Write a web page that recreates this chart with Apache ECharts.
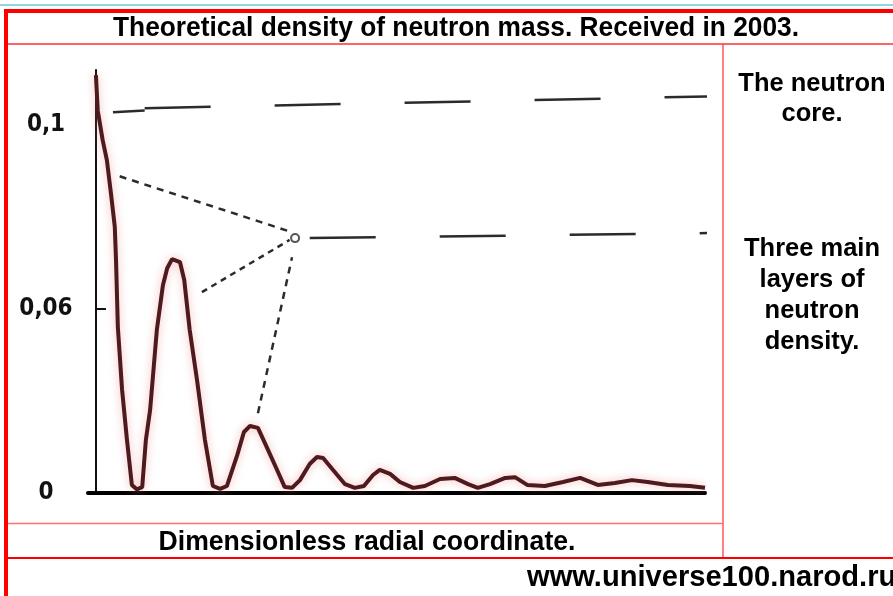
<!DOCTYPE html>
<html>
<head>
<meta charset="utf-8">
<title>Theoretical density of neutron mass</title>
<script src="https://cdn.jsdelivr.net/npm/echarts@6/dist/echarts.min.js"></script>
<style>
  html, body { margin: 0; padding: 0; background: #fff; }
  #main { width: 893px; height: 596px; }
</style>
</head>
<body>
<div id="main"></div>
<script>
// density curve (radial coordinate 0..10)
const radialCoord = [0, 0.03, 0.11, 0.18, 0.25, 0.31, 0.33, 0.36, 0.43, 0.51, 0.59, 0.67, 0.76,
  0.82, 0.89, 1.0, 1.1, 1.17, 1.25, 1.38, 1.45, 1.54, 1.66, 1.79, 1.92, 2.04, 2.15,
  2.32, 2.43, 2.53, 2.66, 2.79, 2.96, 3.1, 3.22, 3.35, 3.51, 3.63, 3.73, 3.89, 4.09,
  4.25, 4.4, 4.55, 4.66, 4.83, 4.99, 5.21, 5.4, 5.65, 5.89, 6.11, 6.27, 6.47, 6.72,
  6.88, 7.08, 7.37, 7.67, 7.95, 8.24, 8.52, 8.8, 9.06, 9.39, 9.75, 10.0];
const density = [0.1136, 0.104, 0.096, 0.0905, 0.081, 0.0723, 0.0633, 0.0451, 0.028, 0.0144, 0.0022, 0.001, 0.0016,
  0.0144, 0.0226, 0.0443, 0.0565, 0.0611, 0.0636, 0.0628, 0.0579, 0.0443, 0.0307, 0.0144, 0.0019, 0.0011, 0.0019,
  0.0103, 0.0166, 0.0182, 0.0177, 0.013, 0.0068, 0.0016, 0.0014, 0.0035, 0.0079, 0.0098, 0.0095, 0.0063, 0.0024,
  0.0014, 0.0019, 0.0049, 0.0063, 0.0052, 0.003, 0.0014, 0.0019, 0.0038, 0.0041, 0.0024, 0.0014, 0.0024, 0.0041,
  0.0043, 0.0022, 0.0019, 0.003, 0.0041, 0.0022, 0.0027, 0.0035, 0.003, 0.0022, 0.0019, 0.0014];

// hand drawn guide lines
const coreStepX = [0.28, 0.8];
const coreStepY = [0.1035, 0.1040];
const coreLineX = [0.8, 10.25];
const coreLineY = [0.1046, 0.1079];
const layerLineX = [3.51, 10.25];
const layerLineY = [0.0693, 0.0707];
const pointerAX = [0.39, 3.22];
const pointerAY = [0.0861, 0.0709];
const pointerBX = [1.74, 3.18];
const pointerBY = [0.0546, 0.0688];
const pointerCX = [2.66, 3.22];
const pointerCY = [0.0217, 0.0641];
const knot = [3.27, 0.0693];

// tick labels as printed on the scan
const yTickValues = [0, 0.05, 0.1];
const yTickLabels = ["0", "0,06", "0,1"];

const pairs = (xs, ys) => xs.map((x, i) => [x, ys[i]]);

const myChart = echarts.init(document.getElementById("main"));

const red = "#ff0000";
const narrow = "bold 28px 'Liberation Sans', Arial, sans-serif";
const wide = "bold 25px 'Liberation Sans', Arial, sans-serif";

function txt(text, x, y, font, sx, lh) {
  return {
    type: "text", x: x, y: y, scaleX: sx, z: 10,
    style: { text: text, x: 0, y: 0, font: font, fill: "#000",
      textAlign: "center", textVerticalAlign: "middle", lineHeight: lh || 30 }
  };
}

function guide(xs, ys, dash, width) {
  return {
    type: "line", data: pairs(xs, ys), symbol: "none", clip: false, silent: true,
    lineStyle: { color: "#2b2b2b", width: width, type: dash }
  };
}

const options = {
  animation: false,
  backgroundColor: "#fff",
  grid: { left: 88, right: 188, top: 70, bottom: 103 },
  xAxis: {
    type: "value", min: -0.13, max: 10,
    axisLine: { lineStyle: { color: "#000", width: 4 } },
    axisTick: { show: false }, axisLabel: { show: false }, splitLine: { show: false }
  },
  yAxis: {
    type: "value", min: 0, max: 0.115,
    axisLine: { show: true, onZero: true, lineStyle: { color: "#111", width: 2 } },
    axisTick: { show: true, inside: true, length: 10, customValues: [0.05],
      lineStyle: { color: "#111", width: 2 } },
    axisLabel: {
      customValues: yTickValues, margin: 42, align: "center",
      fontFamily: "'Liberation Sans Narrow', 'DejaVu Sans Condensed', 'Liberation Sans'",
      fontWeight: "bold", fontSize: 24, color: "#111",
      formatter: v => {
        const i = yTickValues.findIndex(t => Math.abs(t - v) < 1e-9);
        return i < 0 ? "" : yTickLabels[i];
      }
    },
    splitLine: { show: false }
  },
  series: [
    {
      type: "line", data: pairs(radialCoord, density), symbol: "none", z: 5,
      lineStyle: { color: "#4e1a1d", width: 4, shadowColor: "rgba(235,120,120,0.55)", shadowBlur: 8 }
    },
    guide(coreStepX, coreStepY, "solid", 2.5),
    guide(coreLineX, coreLineY, [66, 64], 2.5),
    guide(layerLineX, layerLineY, [66, 64], 2.5),
    guide(pointerAX, pointerAY, [7, 6], 2.5),
    guide(pointerBX, pointerBY, [6, 5], 2.5),
    guide(pointerCX, pointerCY, [7, 6], 2.5),
    {
      type: "scatter", data: [knot], symbol: "circle", symbolSize: 8, silent: true,
      itemStyle: { color: "#fff", borderColor: "#2b2b2b", borderWidth: 2 }
    }
  ],
  graphic: [
    { type: "line", shape: { x1: 0, y1: 5, x2: 893, y2: 5 }, style: { stroke: "#8fd8e0", lineWidth: 2 } },
    { type: "rect", shape: { x: 4, y: 9, width: 889, height: 4 }, style: { fill: red } },
    { type: "rect", shape: { x: 4, y: 9, width: 4, height: 587 }, style: { fill: red } },
    { type: "line", shape: { x1: 8, y1: 44, x2: 893, y2: 44 }, style: { stroke: "#ff3030", lineWidth: 1.5 } },
    { type: "line", shape: { x1: 723, y1: 44, x2: 723, y2: 558 }, style: { stroke: "#ff3030", lineWidth: 1.2 } },
    { type: "line", shape: { x1: 8, y1: 523.5, x2: 723, y2: 523.5 }, style: { stroke: "#ff7070", lineWidth: 1.5 } },
    { type: "line", shape: { x1: 8, y1: 558, x2: 893, y2: 558 }, style: { stroke: red, lineWidth: 2 } },
    txt("Theoretical density of neutron mass. Received in 2003.", 456, 28, narrow, 0.94),
    txt("The neutron\ncore.", 812, 99, wide, 1.02, 30),
    txt("Three main\nlayers of\nneutron\ndensity.", 812, 296, wide, 1.02, 31),
    txt("Dimensionless radial coordinate.", 367, 542, narrow, 0.95),
    {
      type: "text", x: 527, y: 578, scaleX: 0.97, z: 10,
      style: { text: "www.universe100.narod.ru", x: 0, y: 0,
        font: "bold 30px 'Liberation Sans', Arial, sans-serif", fill: "#000",
        textAlign: "left", textVerticalAlign: "middle" }
    }
  ]
};

myChart.setOption(options);
</script>
</body>
</html>
